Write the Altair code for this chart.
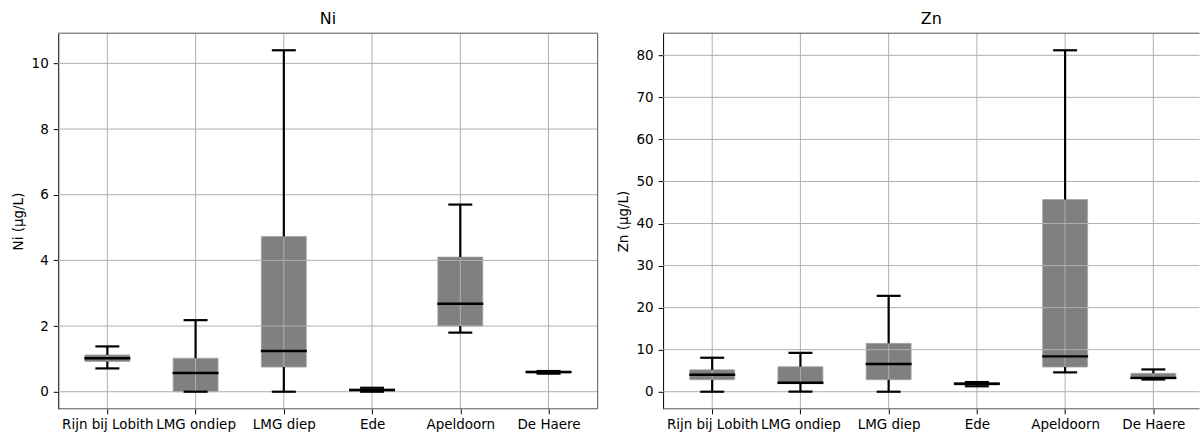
import json

import altair as alt
import pandas as pd

# Sampling sites along the x axis
sites = ["Rijn bij Lobith", "LMG ondiep", "LMG diep", "Ede", "Apeldoorn", "De Haere"]

# Nickel (µg/L): whisker ends, quartiles and median per site
ni_lo = [0.71, 0.00, 0.00, 0.00, 1.80, 0.55]
ni_q1 = [0.92, 0.00, 0.75, 0.01, 2.00, 0.57]
ni_med = [1.02, 0.57, 1.24, 0.05, 2.68, 0.60]
ni_q3 = [1.12, 1.02, 4.73, 0.10, 4.10, 0.62]
ni_hi = [1.38, 2.18, 10.40, 0.12, 5.70, 0.63]
ni_ticks = [0, 2, 4, 6, 8, 10]

# Zinc (µg/L)
zn_lo = [0.0, 0.0, 0.0, 1.3, 4.6, 2.9]
zn_q1 = [2.85, 1.9, 2.85, 1.6, 5.87, 3.0]
zn_med = [4.04, 2.14, 6.58, 1.9, 8.4, 3.3]
zn_q3 = [5.2, 5.94, 11.5, 2.2, 45.7, 4.37]
zn_hi = [8.08, 9.26, 22.8, 2.3, 81.2, 5.3]
zn_ticks = [0, 10, 20, 30, 40, 50, 60, 70, 80]

FONT = "DejaVu Sans"
GRID = "#b0b0b0"
SPINE = "#555555"
STEP = 90          # pixels per site
HEIGHT = 376


def panel(name, lo, q1, med, q3, hi, ticks, width, right_spine=True):
    pos = list(range(1, len(sites) + 1))
    df = pd.DataFrame({"pos": pos, "site": sites, "lo": lo, "q1": q1,
                       "med": med, "q3": q3, "hi": hi})
    tick_df = pd.DataFrame({"tick": ticks})
    span = max(hi) - min(lo)
    ydomain = [min(lo) - 0.05 * span, max(hi) + 0.05 * span]
    # x runs from 0.5 to 6.5 over 540 px; a narrower panel shows less of it
    xdomain = [0.5, 0.5 + width / STEP]
    ytitle = f"{name} (µg/L)"

    yscale = alt.Scale(domain=ydomain, nice=False, zero=False)
    yaxis = alt.Axis(
        values=ticks, grid=False, tickSize=5, labelPadding=5,
        labelFontSize=13.5, titleFontSize=13.5, titleFontWeight="normal",
        titleX=-39.3, titleY=HEIGHT / 2, titleBaseline="middle",
        domainColor="black", tickColor="black", labelColor="black", titleColor="black",
    )

    def Y(field):
        return alt.Y(f"{field}:Q", scale=yscale, axis=yaxis, title=ytitle)

    label_expr = f"{json.dumps(sites)}[datum.value - 1]"
    x = alt.X(
        "pos:Q", title=None,
        scale=alt.Scale(domain=xdomain, nice=False, zero=False),
        axis=alt.Axis(
            values=pos, labelExpr=label_expr, labelAngle=0, labelOverlap=False,
            labelFlush=False, labelBound=False, grid=False, domain=False,
            tickSize=5, labelPadding=4, labelFontSize=13.5,
            tickColor="black", labelColor="black",
        ),
    )

    base = alt.Chart(df).encode(x=x)
    box = base.mark_bar(size=45, color="#808080", stroke="#a4a4a4", strokeWidth=0.8).encode(
        y=Y("q1"), y2="q3:Q"
    )
    vgrid = base.mark_rule(color=GRID, strokeWidth=1)
    hgrid = alt.Chart(tick_df).mark_rule(color=GRID, strokeWidth=1).encode(y=Y("tick"))
    upper = base.mark_rule(color="black", strokeWidth=2.2).encode(y=Y("q3"), y2="hi:Q")
    lower = base.mark_rule(color="black", strokeWidth=2.2).encode(y=Y("lo"), y2="q1:Q")
    tick_kw = dict(color="black", orient="horizontal", opacity=1)
    cap_hi = base.mark_tick(size=24, thickness=2.2, **tick_kw).encode(y=Y("hi"))
    cap_lo = base.mark_tick(size=24, thickness=2.2, **tick_kw).encode(y=Y("lo"))
    median = base.mark_tick(size=46, thickness=2.4, **tick_kw).encode(y=Y("med"))

    # frame: top and bottom edges, plus the right edge where it fits
    one = alt.Chart(pd.DataFrame({"k": [0]}))
    top = one.mark_rule(color=SPINE, strokeWidth=1).encode(
        x=alt.value(0), x2=alt.value(width), y=alt.value(0))
    bottom = one.mark_rule(color=SPINE, strokeWidth=1).encode(
        x=alt.value(0), x2=alt.value(width), y=alt.value(HEIGHT))
    layers = [box, vgrid, hgrid, upper, lower, cap_hi, cap_lo, median, top, bottom]
    if right_spine:
        layers.append(one.mark_rule(color=SPINE, strokeWidth=1).encode(
            x=alt.value(width), y=alt.value(0), y2=alt.value(HEIGHT)))

    return alt.layer(*layers).properties(
        width=width, height=HEIGHT,
        title=alt.TitleParams(name, fontSize=16, fontWeight="normal", offset=6, color="black"),
    )


ni = panel("Ni", ni_lo, ni_q1, ni_med, ni_q3, ni_hi, ni_ticks, 540)
zn = panel("Zn", zn_lo, zn_q1, zn_med, zn_q3, zn_hi, zn_ticks, 537, right_spine=False)

chart = (
    alt.hconcat(ni, zn, spacing=65.5, bounds="flush")
    .properties(padding={"left": 11.3, "top": 10, "right": 0, "bottom": 2}, background="white")
    .configure(font=FONT)
    .configure_view(stroke=None)
)

chart.save("out.html", embed_options={"renderer": "svg", "actions": False})
